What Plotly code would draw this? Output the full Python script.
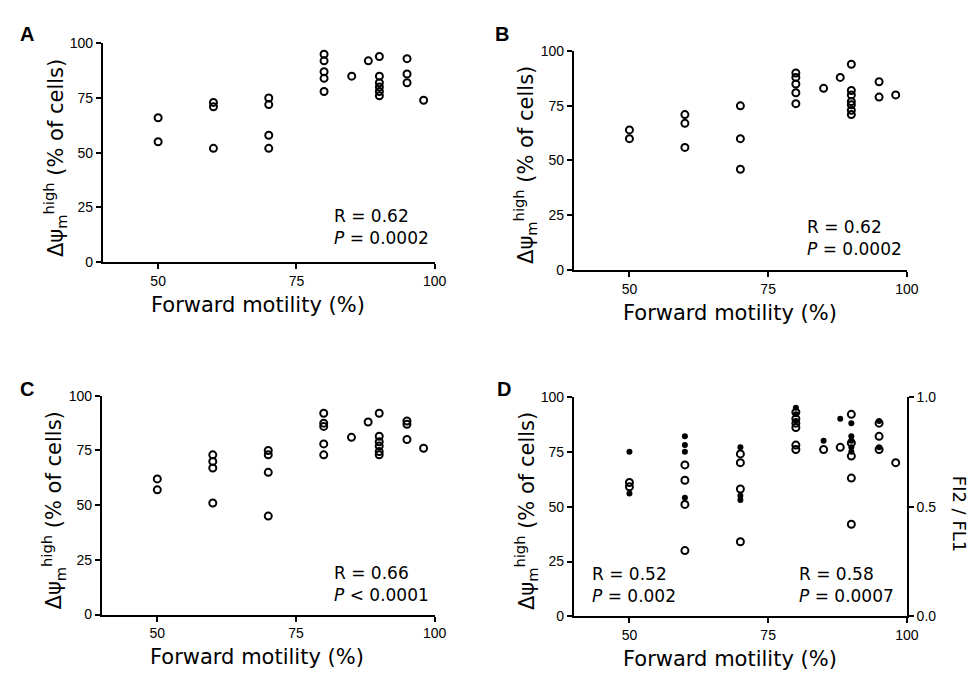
import plotly.graph_objects as go

# ---------------- data ----------------
# Panel A
a_x = [50, 50, 60, 60, 60, 70, 70, 70, 70, 80, 80, 80, 80, 80, 85, 88,
       90, 90, 90, 90, 90, 90, 95, 95, 95, 98]
a_y = [66, 55, 73, 71, 52, 75, 72, 58, 52, 95, 92, 87, 84, 78, 85, 92,
       94, 85, 82, 80, 78, 76, 93, 86, 82, 74]
# Panel B
b_x = [50, 50, 60, 60, 60, 70, 70, 70, 80, 80, 80, 80, 80, 85, 88,
       90, 90, 90, 90, 90, 90, 90, 95, 95, 98]
b_y = [64, 60, 71, 67, 56, 75, 60, 46, 90, 88, 85, 81, 76, 83, 88,
       94, 82, 80, 77, 75.5, 73, 71, 86, 79, 80]
# Panel C
c_x = [50, 50, 60, 60, 60, 60, 70, 70, 70, 70, 80, 80, 80, 80, 80, 85, 88,
       90, 90, 90, 90, 90, 90, 95, 95, 95, 98]
c_y = [62, 57, 73, 70, 67, 51, 75, 73, 65, 45, 92, 87.5, 86, 78, 73, 81, 88,
       92, 81.5, 79, 77, 74.5, 73, 88.5, 87, 80, 76]
# Panel D: open circles (left axis, % of cells)
d_open_x = [50, 50, 60, 60, 60, 60, 70, 70, 70, 70, 80, 80, 80, 80, 80, 80,
            85, 88, 90, 90, 90, 90, 90, 95, 95, 95, 98]
d_open_y = [61, 59, 69, 62, 51, 30, 74, 70, 58, 34, 93, 90, 88, 86, 78, 76,
            76, 77, 92, 79, 73, 63, 42, 88, 82, 76, 70]
# Panel D: filled dots (right axis, Fl2 / FL1 ratio)
d_fill_x = [50, 50, 60, 60, 60, 60, 70, 70, 70, 80, 80, 80, 85, 88,
            90, 90, 90, 90, 90, 95, 95]
d_fill_y = [0.75, 0.56, 0.82, 0.78, 0.75, 0.54, 0.77, 0.55, 0.53, 0.95, 0.92, 0.89,
            0.80, 0.90, 0.88, 0.82, 0.80, 0.77, 0.75, 0.89, 0.77]

x_ticks = [50, 75, 100]
y_ticks = [0, 25, 50, 75, 100]
y2_ticks = [0, 0.5, 1.0]
y2_ticktext = ["0.0", "0.5", "1.0"]

W, H = 976, 677
TICKFONT = dict(family="Liberation Sans, Arial, sans-serif", size=14, color="black")
TITLEFONT = dict(family="DejaVu Sans, sans-serif", size=21, color="black")
STATFONT = dict(family="DejaVu Sans, sans-serif", size=17, color="black")

def px_x(v):
    return v / W

def px_y(v):
    return 1 - v / H

# panel pixel boxes: (left, right, top, bottom)
boxes = {
    "A": (96, 432, 28, 252),
    "B": (573, 910, 36, 260),
    "C": (95, 432, 389, 613),
    "D": (573, 910, 390, 615),
}

fig = go.Figure()

open_marker = dict(symbol="circle-open", size=7, color="black", line=dict(width=2, color="black"))

panels = [("A", a_x, a_y, "x", "y"), ("B", b_x, b_y, "x2", "y2"),
          ("C", c_x, c_y, "x3", "y3"), ("D", d_open_x, d_open_y, "x4", "y4")]

for name, xs, ys, xa, ya in panels:
    fig.add_trace(go.Scatter(x=xs, y=ys, mode="markers", marker=open_marker,
                             xaxis=xa, yaxis=ya, showlegend=False, cliponaxis=False))

fig.add_trace(go.Scatter(x=d_fill_x, y=d_fill_y, mode="markers",
                         marker=dict(symbol="circle", size=6, color="black"),
                         xaxis="x4", yaxis="y5", showlegend=False, cliponaxis=False))

axis_common = dict(showline=True, linecolor="black", linewidth=2, ticks="outside",
                   ticklen=5, tickwidth=2, tickcolor="black", showgrid=False,
                   zeroline=False, tickfont=TICKFONT)

layout = dict(width=W, height=H, margin=dict(l=0, r=0, t=0, b=0),
              paper_bgcolor="white", plot_bgcolor="white", showlegend=False)

ids = ["", "2", "3", "4"]
for (name, (l, r, t, b)), i in zip(boxes.items(), ids):
    layout["xaxis" + i] = dict(domain=[px_x(l), px_x(r)], range=[40, 100], tickvals=x_ticks,
                               anchor="y" + i, **axis_common)
    layout["yaxis" + i] = dict(domain=[px_y(b), px_y(t)], range=[0, 100], tickvals=y_ticks,
                               anchor="x" + i, **axis_common)

layout["yaxis5"] = dict(range=[0, 1], tickvals=y2_ticks, ticktext=y2_ticktext,
                        overlaying="y4", side="right", anchor="x4", **axis_common)

fig.update_layout(**layout)

ytitle = "Δψ<sub>m</sub><sup>high</sup> (% of cells)"
annotations = []
label_pos = {"A": (19, 18), "B": (500, 18), "C": (19, 382), "D": (502, 382)}
for name, (l, r, t, b) in boxes.items():
    # panel letter
    lx, ly = label_pos[name]
    annotations.append(dict(text="<b>%s</b>" % name, x=px_x(lx), y=px_y(ly), xref="paper", yref="paper",
                            showarrow=False, xanchor="center", yanchor="middle",
                            font=dict(family="Liberation Sans, Arial, sans-serif", size=20, color="black")))
    # x title
    annotations.append(dict(text="Forward motility (%)", x=px_x((l + r) / 2 - 11), y=px_y(b + 44),
                            xref="paper", yref="paper", showarrow=False,
                            xanchor="center", yanchor="middle", font=TITLEFONT))
    # y title
    annotations.append(dict(text=ytitle, x=px_x(l - 49), y=px_y((t + b) / 2 + 5),
                            xref="paper", yref="paper", showarrow=False, textangle=-90,
                            xanchor="center", yanchor="middle", font=TITLEFONT))

stats = [
    ("A", "R = 0.62<br><i>P</i> = 0.0002", 328, 216, "left"),
    ("B", "R = 0.62<br><i>P</i> = 0.0002", 807, 227, "left"),
    ("C", "R = 0.66<br><i>P</i> < 0.0001", 328, 582, "left"),
    ("D1", "R = 0.52<br><i>P</i> = 0.002", 589, 583, "left"),
    ("D2", "R = 0.58<br><i>P</i> = 0.0007", 799, 583, "left"),
]
for _, txt, x, y, al in stats:
    annotations.append(dict(text=txt, x=px_x(x), y=px_y(y), xref="paper", yref="paper",
                            showarrow=False, xanchor=al, yanchor="middle", align="left",
                            font=STATFONT))

annotations.append(dict(text="FI2 / FL1", x=px_x(963), y=px_y(510), xref="paper", yref="paper",
                        showarrow=False, textangle=90, xanchor="center", yanchor="middle",
                        font=dict(family="DejaVu Sans, sans-serif", size=18, color="black")))

fig.update_layout(annotations=annotations)
fig.write_html("out.html")
